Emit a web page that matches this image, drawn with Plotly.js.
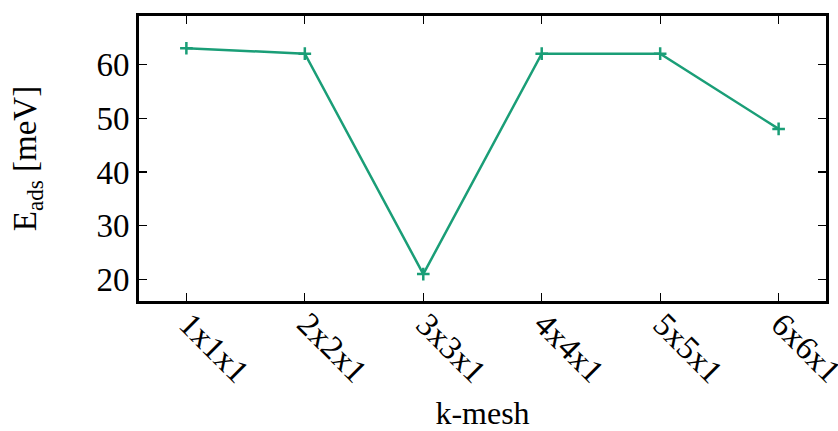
<!DOCTYPE html>
<html>
<head>
<meta charset="utf-8">
<script src="https://cdn.plot.ly/plotly-3.0.1.min.js"></script>
<style>html,body{margin:0;padding:0;background:#fff;}</style>
</head>
<body>
<div id="chart" style="width:838px;height:431px;"></div>
<script>
const categories = ["1x1x1", "2x2x1", "3x3x1", "4x4x1", "5x5x1", "6x6x1"];
const eads = [63, 62, 21, 62, 62, 48];
const yTicks = [20, 30, 40, 50, 60];

const FAM = "Liberation Serif";
const FS = 33;

const trace = {
  x: categories.map((c, i) => i),
  y: eads,
  type: "scatter",
  mode: "lines+markers",
  line: {color: "#1a9e77", width: 2.5},
  marker: {symbol: "cross-thin-open", size: 9, color: "#1a9e77", line: {color: "#1a9e77", width: 2.5}},
  showlegend: false,
  hoverinfo: "skip"
};

// x tick labels drawn as rotated annotations at each category position
const xLabelAnnotations = categories.map((c, i) => ({
  x: i, xref: "x", y: 0, yref: "paper",
  text: c, textangle: 45, showarrow: false,
  xanchor: "left", yanchor: "top",
  xshift: -17, yshift: -2,
  font: {family: FAM, size: FS, color: "#000"}
}));

const layout = {
  width: 838, height: 431,
  margin: {l: 139, r: 12, t: 16, b: 130, pad: 0},
  paper_bgcolor: "#fff", plot_bgcolor: "#fff",
  font: {family: FAM, color: "#000", size: FS},
  annotations: xLabelAnnotations,
  xaxis: {
    range: [-0.4, 5.4],
    tickmode: "array",
    tickvals: categories.map((c, i) => i),
    ticktext: categories,
    showticklabels: false,
    ticks: "inside", ticklen: 8, tickwidth: 1.2, tickcolor: "#000",
    showline: true, linewidth: 3, linecolor: "#000", mirror: "ticks",
    showgrid: false, zeroline: false,
    title: {text: "k-mesh", font: {family: FAM, size: 32, color: "#000"}, standoff: 102}
  },
  yaxis: {
    range: [16, 69],
    tickmode: "array",
    tickvals: yTicks,
    ticktext: yTicks.map(String),
    ticks: "inside", ticklen: 8, tickwidth: 1.2, tickcolor: "#000",
    showline: true, linewidth: 3, linecolor: "#000", mirror: "ticks",
    showgrid: false, zeroline: false,
    tickfont: {family: FAM, size: FS, color: "#000"},
    title: {text: "E<sub>ads</sub> [meV]", font: {family: FAM, size: FS, color: "#000"}, standoff: 50}
  }
};

Plotly.newPlot("chart", [trace], layout, {staticPlot: true, displayModeBar: false});
</script>
</body>
</html>
